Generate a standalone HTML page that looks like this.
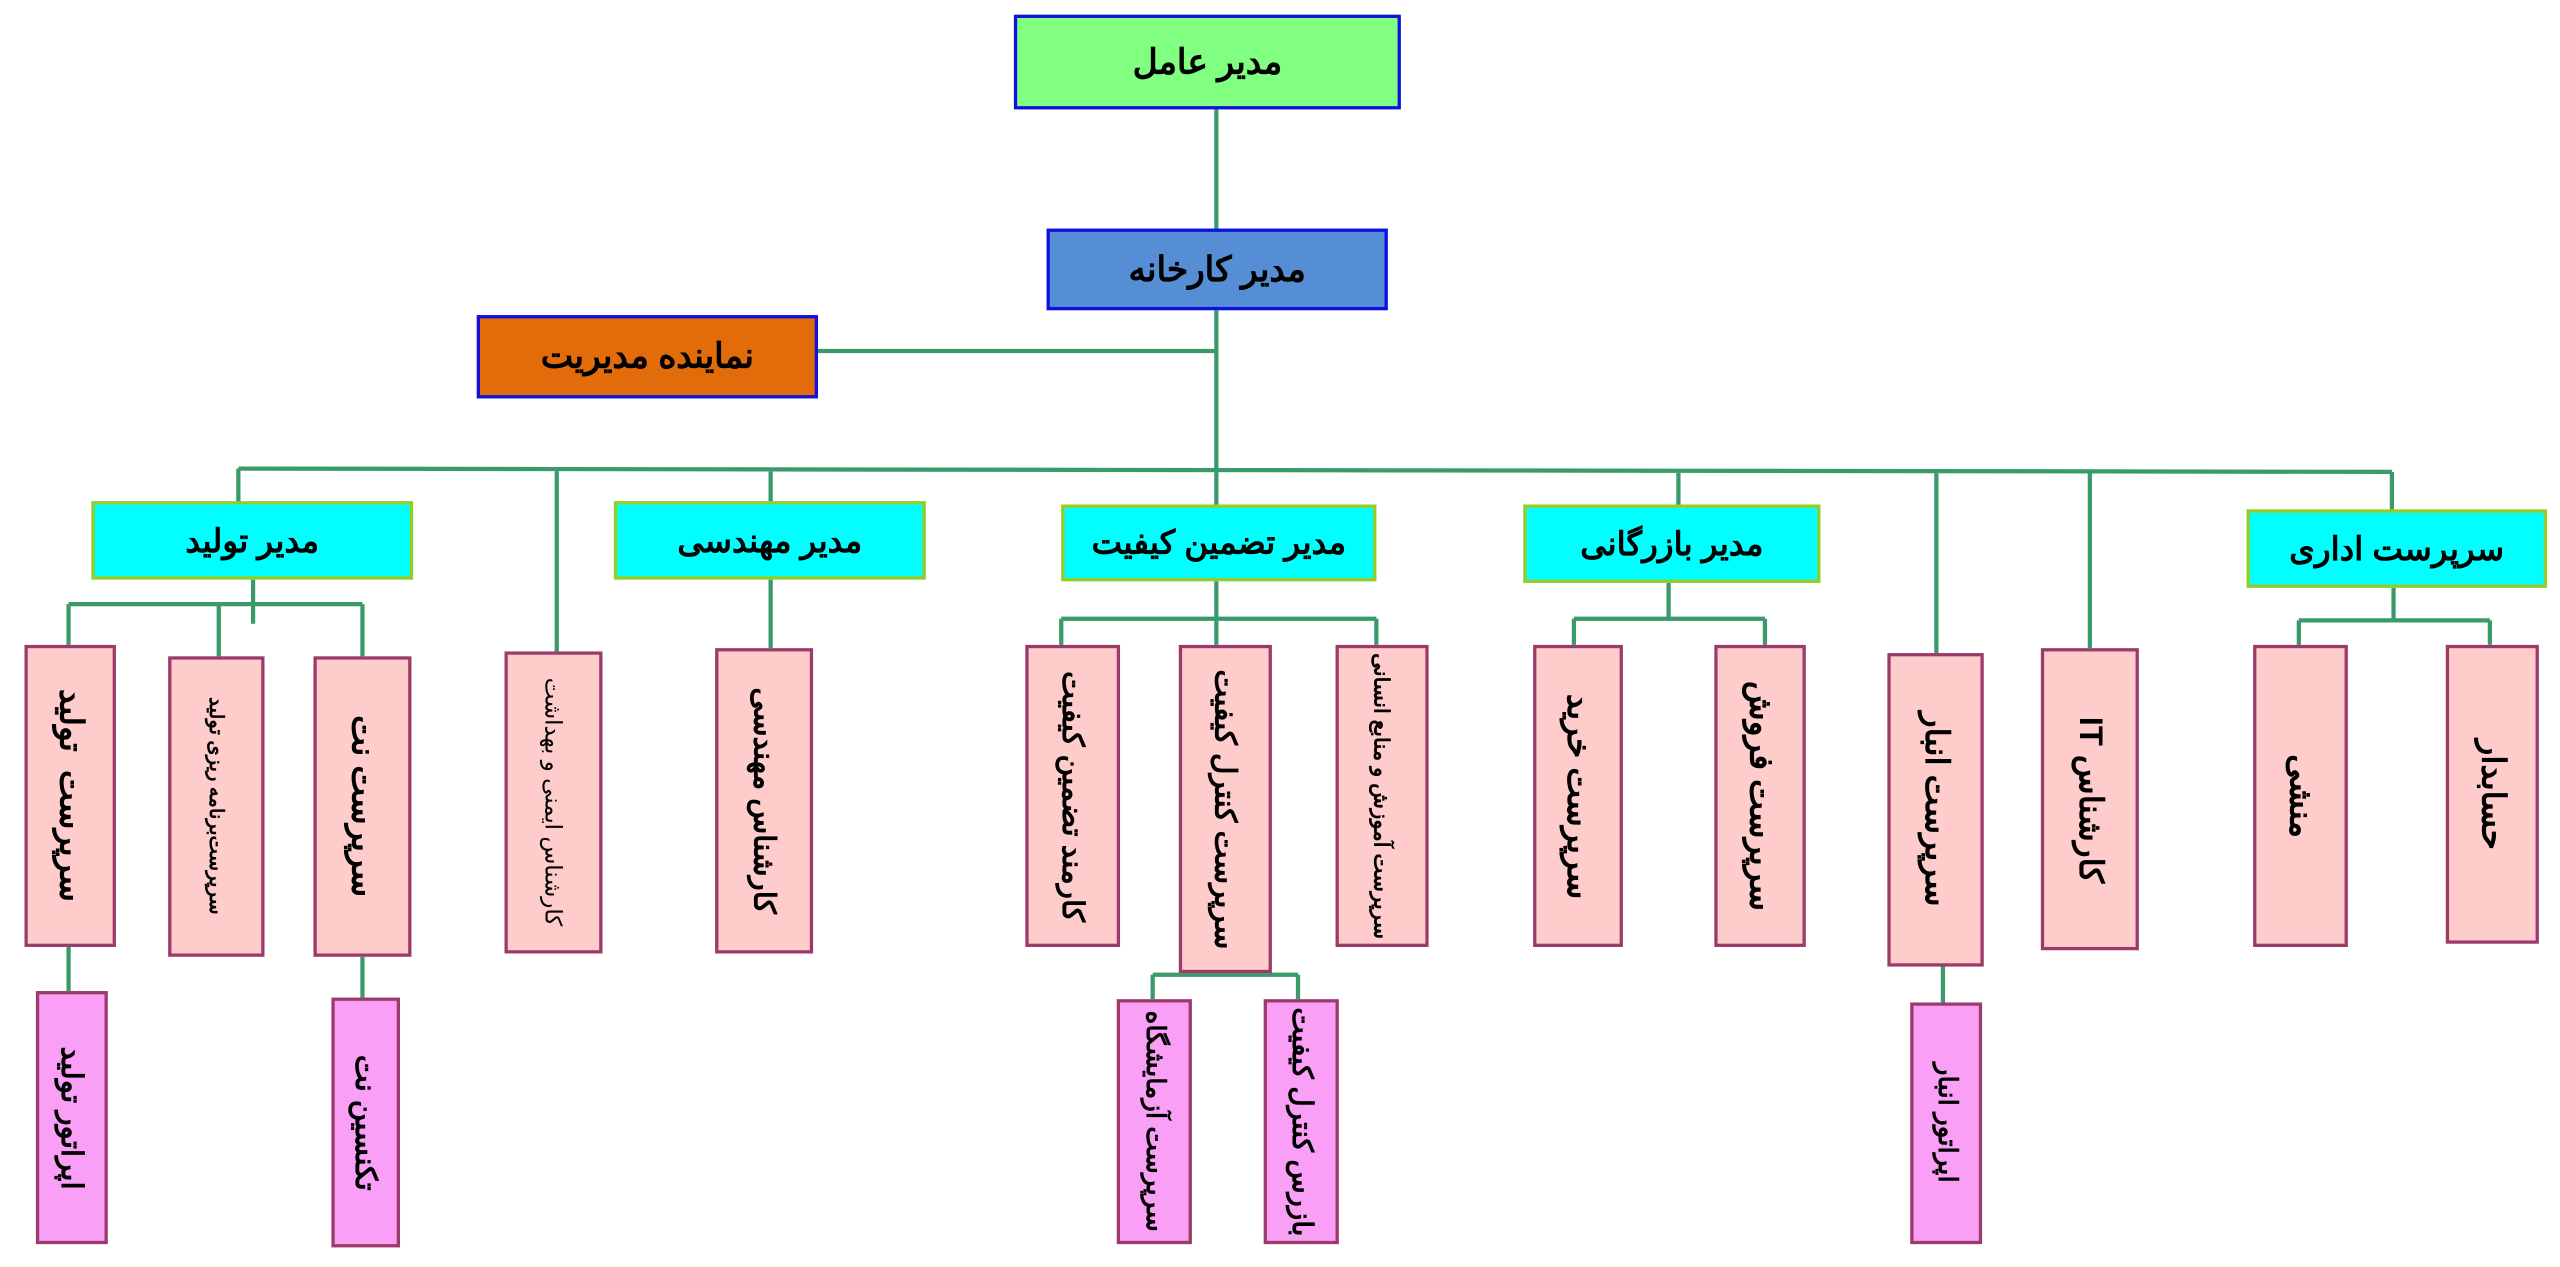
<!DOCTYPE html>
<html><head><meta charset="utf-8">
<style>
html,body{margin:0;padding:0;background:#fff;width:2560px;height:1266px;overflow:hidden}
#c{position:absolute;left:0;top:0;width:1568px;height:776px;transform:scale(1.6327);transform-origin:0 0}
.b{position:absolute;box-sizing:border-box;display:flex;align-items:center;justify-content:center;font-family:"Liberation Sans","Noto Sans CJK SC",sans-serif;font-weight:bold;color:#000;direction:rtl}
.h{font-size:21px}
.top{border:2px solid #1010e0}
.mgr{background:#00ffff;border:2px solid #99cc22;font-size:20px}
.p{background:#ffcccc;border:2.5px solid #9b3b6a}
.o{background:#f9a0f6;border:2.5px solid #9b3b6a}
.v{writing-mode:vertical-rl;font-size:20px;white-space:nowrap}
.s{font-size:12px;font-weight:normal}
svg{position:absolute;left:0;top:0}
</style></head><body><div id="c">
<svg width="1568" height="776" fill="none" stroke="#3a9a6a" stroke-width="2.6">
<path d="M745 67V140M745 190V289M501 215H745"/>
<path d="M146 287L1465 289M146 287V308M341 287V399M472 287V307M745 289V309M1028 289V309M1186 289V400M1280 289V397M1465 289V312"/>
<path d="M155 355V382M42 370H222M42 370V395M134 370V402M222 370V402M42 580V607M222 586V612"/>
<path d="M472 355V397"/>
<path d="M745 356V395M650 379H843M650 379V395M843 379V395M749 596V598M706 597H795M706 597V612M795 597V612"/>
<path d="M1022 357V379M964 379H1081M964 379V395M1081 379V395M1190 592V614"/>
<path d="M1466 360V380M1408 380H1525M1408 380V395M1525 380V395"/>
</svg>
<div class="b top h" style="left:621px;top:9px;width:237px;height:58px;background:#80ff80">مدیر عامل</div>
<div class="b top h" style="left:641px;top:140px;width:209px;height:50px;background:#558ed5">مدیر کارخانه</div>
<div class="b top h" style="left:292px;top:193px;width:209px;height:51px;background:#e36c0a">نماینده مدیریت</div>
<div class="b mgr" style="left:56px;top:307px;width:197px;height:48px">مدیر تولید</div>
<div class="b mgr" style="left:376px;top:307px;width:191px;height:48px">مدیر مهندسی</div>
<div class="b mgr" style="left:650px;top:309px;width:193px;height:47px">مدیر تضمین کیفیت</div>
<div class="b mgr" style="left:933px;top:309px;width:182px;height:48px">مدیر بازرگانی</div>
<div class="b mgr" style="left:1376px;top:312px;width:184px;height:48px">سرپرست اداری</div>

<div class="b p" style="left:15px;top:395px;width:56px;height:185px"><span class="v">سرپرست &nbsp;تولید</span></div>
<div class="b p" style="left:103px;top:402px;width:59px;height:184px"><span class="v s" style="font-weight:bold;font-size:12px">سرپرست‌برنامه ریزی تولید</span></div>
<div class="b p" style="left:192px;top:402px;width:60px;height:184px"><span class="v">سرپرست نت</span></div>
<div class="b o" style="left:22px;top:607px;width:44px;height:155px"><span class="v" style="font-size:18px">اپراتور تولید</span></div>
<div class="b o" style="left:203px;top:611px;width:42px;height:153px"><span class="v" style="font-size:18px">تکنسین نت</span></div>
<div class="b p" style="left:309px;top:399px;width:60px;height:185px"><span class="v s" style="font-size:14px">کارشناس ایمنی و بهداشت</span></div>
<div class="b p" style="left:438px;top:397px;width:60px;height:187px"><span class="v" style="font-size:18px">کارشناس مهندسی</span></div>
<div class="b p" style="left:628px;top:395px;width:58px;height:185px"><span class="v" style="font-size:18px">کارمند تضمین کیفیت</span></div>
<div class="b p" style="left:722px;top:395px;width:57px;height:201px"><span class="v" style="font-size:18px">سرپرست کنترل کیفیت</span></div>
<div class="b p" style="left:818px;top:395px;width:57px;height:185px"><span class="v s" style="font-size:13px;font-weight:bold">سرپرست آموزش و منابع انسانی</span></div>
<div class="b o" style="left:684px;top:612px;width:46px;height:150px"><span class="v" style="font-size:16px">سرپرست آزمایشگاه</span></div>
<div class="b o" style="left:774px;top:612px;width:46px;height:150px"><span class="v" style="font-size:17px">بازرس کنترل کیفیت</span></div>
<div class="b p" style="left:939px;top:395px;width:55px;height:185px"><span class="v">سرپرست خرید</span></div>
<div class="b p" style="left:1050px;top:395px;width:56px;height:185px"><span class="v">سرپرست فروش</span></div>
<div class="b p" style="left:1156px;top:400px;width:59px;height:192px"><span class="v">سرپرست انبار</span></div>
<div class="b o" style="left:1170px;top:614px;width:44px;height:148px"><span class="v" style="font-size:16px">اپراتور انبار</span></div>
<div class="b p" style="left:1250px;top:397px;width:60px;height:185px"><span class="v">کارشناس IT</span></div>
<div class="b p" style="left:1380px;top:395px;width:58px;height:185px"><span class="v">منشی</span></div>
<div class="b p" style="left:1498px;top:395px;width:57px;height:183px"><span class="v">حسابدار</span></div>
</div></body></html>
